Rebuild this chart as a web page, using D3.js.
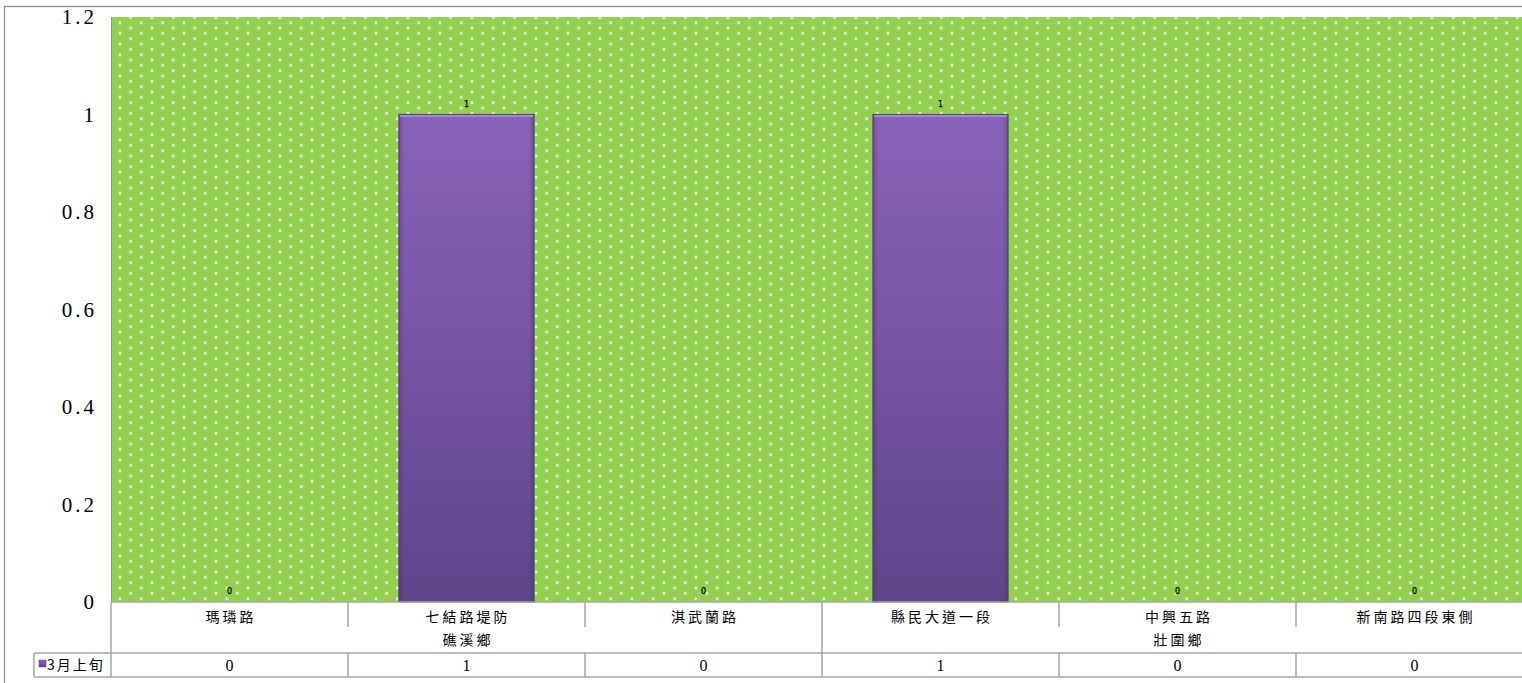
<!DOCTYPE html>
<html>
<head>
<meta charset="utf-8">
<script src="https://cdn.jsdelivr.net/npm/d3@7"></script>
<style>
  html, body { margin: 0; padding: 0; background: #fff; overflow: hidden; }
  svg { display: block; }
</style>
</head>
<body>
<svg id="chart" width="1522" height="683"></svg>
<script>
// ---- data ----
const categories = ["瑪璘路", "七結路堤防", "淇武蘭路", "縣民大道一段", "中興五路", "新南路四段東側"];
const groupOf = ["礁溪鄉", "礁溪鄉", "礁溪鄉", "壯圍鄉", "壯圍鄉", "壯圍鄉"];
const groups = ["礁溪鄉", "壯圍鄉"];
const seriesName = "3月上旬";
const values = [0, 1, 0, 1, 0, 0];
const yTicks = [0, 0.2, 0.4, 0.6, 0.8, 1, 1.2];

// ---- layout ----
const W = 1522, H = 683;
const plot = { left: 111, top: 17, right: 1533, bottom: 602 };
const rowCat = 627, rowGroup = 653, rowData = 677, legendLeft = 34;
const gridColor = "#a6a6a6";
const serifNum = "'Liberation Serif', 'DejaVu Serif', serif";
const cjk = "'Noto Sans CJK TC', 'Noto Sans CJK SC', sans-serif";

const svg = d3.select("#chart");
const defs = svg.append("defs");

// dotted green fill
const pat = defs.append("pattern")
  .attr("id", "dots").attr("patternUnits", "userSpaceOnUse")
  .attr("x", 120).attr("y", 22.7)
  .attr("width", 21.333).attr("height", 10.667);
pat.append("rect").attr("width", 21.333).attr("height", 10.667).attr("fill", "#92d050");
[[0, 0], [10.667, 5.333], [21.333, 0], [0, 10.667], [21.333, 10.667]].forEach(([cx, cy]) => {
  pat.append("circle").attr("cx", cx).attr("cy", cy).attr("r", 1.9).attr("fill", "#c6e8a0").attr("opacity", 0.6);
  pat.append("circle").attr("cx", cx).attr("cy", cy).attr("r", 1.1).attr("fill", "#f6fbee");
});

// bar gradient
const grad = defs.append("linearGradient").attr("id", "barGrad")
  .attr("x1", 0).attr("y1", 0).attr("x2", 0).attr("y2", 1);
grad.append("stop").attr("offset", "0%").attr("stop-color", "#8963b8");
grad.append("stop").attr("offset", "50%").attr("stop-color", "#7654a3");
grad.append("stop").attr("offset", "100%").attr("stop-color", "#60458a");
const gradH = defs.append("linearGradient").attr("id", "barEdge")
  .attr("x1", 0).attr("y1", 0).attr("x2", 1).attr("y2", 0);
gradH.append("stop").attr("offset", "0%").attr("stop-color", "#3f2d5c").attr("stop-opacity", 0.35);
gradH.append("stop").attr("offset", "4%").attr("stop-color", "#3f2d5c").attr("stop-opacity", 0);
gradH.append("stop").attr("offset", "96%").attr("stop-color", "#3f2d5c").attr("stop-opacity", 0);
gradH.append("stop").attr("offset", "100%").attr("stop-color", "#3f2d5c").attr("stop-opacity", 0.35);

// outer chart border (extends beyond view on the right/bottom)
svg.append("rect").attr("x", 4.5).attr("y", 6.5).attr("width", 1600).attr("height", 700)
  .attr("fill", "#fff").attr("stroke", "#8c8c8c").attr("stroke-width", 1.3);

// scales
const y = d3.scaleLinear().domain([0, 1.2]).range([plot.bottom, plot.top]);
const x = d3.scaleBand().domain(categories).range([plot.left, plot.right])
  .paddingInner(0.43).paddingOuter(0.215);
const step = x.step();

// plot area
svg.append("rect").attr("x", plot.left).attr("y", plot.top)
  .attr("width", plot.right - plot.left).attr("height", plot.bottom - plot.top)
  .attr("fill", "url(#dots)");
svg.append("line").attr("x1", plot.left + 0.5).attr("x2", plot.left + 0.5)
  .attr("y1", plot.top).attr("y2", plot.bottom).attr("stroke", "#8a9a80").attr("stroke-width", 1);

// y axis
const yAxis = d3.axisLeft(y).tickValues(yTicks).tickSize(0).tickPadding(0)
  .tickFormat(d => String(d));
const gy = svg.append("g").attr("transform", `translate(97,0)`).call(yAxis);
gy.select(".domain").remove();
gy.selectAll("text")
  .attr("font-family", serifNum).attr("font-size", 21).attr("fill", "#000")
  .attr("letter-spacing", "3px").attr("dy", "0.32em");

// bars
const bars = svg.append("g");
categories.forEach((c, i) => {
  const v = values[i];
  if (v <= 0) return;
  const bx = x(c), bw = x.bandwidth(), by = y(v), bh = y(0) - y(v);
  bars.append("rect").attr("x", bx).attr("y", by).attr("width", bw).attr("height", bh)
    .attr("fill", "url(#barGrad)").attr("stroke", "#55457a").attr("stroke-width", 1.2);
  bars.append("rect").attr("x", bx).attr("y", by).attr("width", bw).attr("height", bh)
    .attr("fill", "url(#barEdge)");
  bars.append("line").attr("x1", bx + 1).attr("x2", bx + bw - 1)
    .attr("y1", by + 1.5).attr("y2", by + 1.5).attr("stroke", "#a58ad0").attr("stroke-width", 2);
});

// data labels
svg.append("g").selectAll("text").data(categories).join("text")
  .attr("x", c => x(c) + x.bandwidth() / 2)
  .attr("y", (c, i) => y(values[i]) - 8)
  .attr("text-anchor", "middle")
  .attr("font-family", "'DejaVu Sans', 'Liberation Sans', Arial, sans-serif").attr("font-size", 8)
  .attr("fill", "#000").attr("stroke", "#000").attr("stroke-width", 0.25)
  .text((c, i) => values[i]);

// ---- data table below ----
const lines = svg.append("g").attr("stroke", gridColor).attr("stroke-width", 1.5);
// axis line
lines.append("line").attr("x1", plot.left).attr("x2", W + 20).attr("y1", plot.bottom).attr("y2", plot.bottom);
lines.append("line").attr("x1", legendLeft).attr("x2", W + 20).attr("y1", rowGroup).attr("y2", rowGroup);
lines.append("line").attr("x1", legendLeft).attr("x2", W + 20).attr("y1", rowData).attr("y2", rowData);
lines.append("line").attr("x1", plot.left).attr("x2", plot.left).attr("y1", plot.bottom).attr("y2", rowData);
lines.append("line").attr("x1", legendLeft).attr("x2", legendLeft).attr("y1", rowGroup).attr("y2", rowData);

// category boundaries
const boundaries = categories.map(c => x(c) - (step - x.bandwidth()) / 2).slice(1);
boundaries.forEach((bx, k) => {
  const i = k + 1;
  const groupBreak = groupOf[i] !== groupOf[i - 1];
  lines.append("line").attr("x1", bx).attr("x2", bx)
    .attr("y1", plot.bottom).attr("y2", groupBreak ? rowData : rowCat);
  if (!groupBreak) {
    lines.append("line").attr("x1", bx).attr("x2", bx).attr("y1", rowGroup).attr("y2", rowData);
  }
});

// category labels
const catText = svg.append("g").attr("font-family", cjk).attr("font-size", 14)
  .attr("fill", "#000").attr("text-anchor", "middle");
catText.selectAll("text").data(categories).join("text")
  .attr("x", c => x(c) + x.bandwidth() / 2 + 1.5)
  .attr("y", 617).attr("dy", "0.35em").attr("letter-spacing", "3px")
  .text(c => c);

// group labels
groups.forEach(g => {
  const idx = categories.map((c, i) => i).filter(i => groupOf[i] === g);
  const x0 = x(categories[idx[0]]) - (step - x.bandwidth()) / 2;
  const x1 = x(categories[idx[idx.length - 1]]) + x.bandwidth() + (step - x.bandwidth()) / 2;
  catText.append("text").attr("x", (x0 + x1) / 2 + 1.5).attr("y", 640).attr("dy", "0.35em")
    .attr("letter-spacing", "3px").text(g);
});

// data row values
svg.append("g").selectAll("text").data(categories).join("text")
  .attr("x", c => x(c) + x.bandwidth() / 2)
  .attr("y", 665).attr("dy", "0.35em")
  .attr("text-anchor", "middle")
  .attr("font-family", serifNum).attr("font-size", 16).attr("fill", "#000")
  .text((c, i) => values[i]);

// legend key
svg.append("rect").attr("x", 39).attr("y", 660).attr("width", 7).attr("height", 7)
  .attr("fill", "url(#barGrad)").attr("stroke", "#55457a").attr("stroke-width", 0.5);
svg.append("text").attr("x", 47).attr("y", 665).attr("dy", "0.35em")
  .attr("font-family", cjk).attr("font-size", 14).attr("letter-spacing", "2px")
  .attr("fill", "#000").text(seriesName);
</script>
</body>
</html>
